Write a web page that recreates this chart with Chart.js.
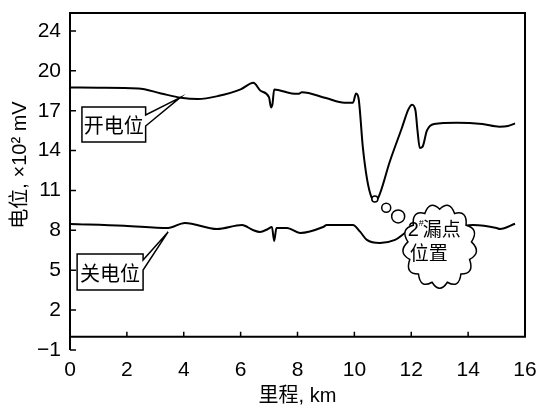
<!DOCTYPE html>
<html>
<head>
<meta charset="utf-8">
<script src="https://cdn.jsdelivr.net/npm/chart.js"></script>
<style>
html,body{margin:0;padding:0;background:#fff;}
canvas{display:block;}
</style>
</head>
<body>
<canvas id="c" width="536" height="408"></canvas>
<script>
// ---- data ----
const openX = [0, 1, 2.4, 3.2, 3.9, 4.5, 5.2, 6.0, 6.45, 6.7, 7.0, 7.07, 7.12, 7.18, 7.8, 8.05, 8.15, 9.0, 9.65, 9.95, 10.06, 10.15, 10.3, 10.45, 10.6, 10.72, 10.85, 11.25, 11.67, 11.9, 12.03, 12.15, 12.22, 12.3, 12.4, 12.55, 12.8, 13.6, 14.5, 15.1, 15.4, 15.65];
const openY = [18.75, 18.72, 18.68, 18.3, 17.98, 17.88, 18.1, 18.6, 19.1, 18.5, 18.0, 17.25, 17.5, 18.6, 18.3, 18.28, 18.38, 17.95, 17.6, 17.6, 18.3, 17.9, 14.2, 11.8, 10.5, 10.2, 10.5, 13.2, 15.7, 17.1, 17.45, 17.0, 15.5, 14.2, 14.3, 15.5, 16.0, 16.1, 16.0, 15.8, 15.85, 16.05];
const offX = [0, 1.9, 3.45, 4.04, 5.17, 6.05, 6.43, 6.68, 6.96, 7.1, 7.18, 7.26, 7.63, 8.09, 8.9, 9.03, 9.95, 10.2, 10.44, 10.9, 11.43, 11.85, 12.4, 13.0, 13.6, 14.17, 15.0, 15.12, 15.65];
const offY = [8.48, 8.35, 8.18, 8.56, 8.1, 8.4, 8.03, 7.88, 8.1, 8.25, 7.2, 8.18, 8.18, 7.8, 8.25, 8.4, 8.4, 7.9, 7.28, 7.05, 7.28, 7.88, 8.1, 8.2, 8.25, 8.4, 8.18, 8.1, 8.5];
const xTickValues = [0, 2, 4, 6, 8, 10, 12, 14, 16];
const yTickValues = [-1, 2, 5, 8, 11, 14, 17, 20, 23];
const yTickLabels = ['\u22121', '2', '5', '8', '11', '14', '17', '20', '24'];
const seriesNames = ['开电位', '关电位'];
const leakLabel = ['2', '#', '漏点', '位置'];
const xTitle = '里程, km';
const yTitle = '电位, ×10\u00B2 mV';

const LATIN = '"Liberation Sans", Arial, "Noto Sans CJK SC", sans-serif';
const CJK = '"Noto Sans CJK SC", "Liberation Sans", sans-serif';

function pts(xs, ys) { return xs.map((x, i) => ({ x: x, y: ys[i] })); }

const decor = {
  id: 'decor',
  afterDatasetsDraw(chart) {
    const ctx = chart.ctx;
    const xs = chart.scales.x, ys = chart.scales.y;
    const ca = chart.chartArea;
    const px = v => xs.getPixelForValue(v);
    const py = v => ys.getPixelForValue(v);
    ctx.save();
    ctx.strokeStyle = '#000';
    ctx.lineWidth = 2;
    ctx.lineCap = 'butt';
    // frame: left axis (to -1), top, right, x axis at y = 0
    const y0 = py(0);
    ctx.beginPath();
    ctx.moveTo(ca.left, ca.bottom);
    ctx.lineTo(ca.left, ca.top);
    ctx.lineTo(ca.right, ca.top);
    ctx.lineTo(ca.right, y0);
    ctx.lineTo(ca.left, y0);
    ctx.stroke();
    ctx.lineWidth = 1.5;
    // y ticks (inward)
    ctx.beginPath();
    yTickValues.forEach(v => { const y = py(v); ctx.moveTo(ca.left, y); ctx.lineTo(ca.left + 6, y); });
    // x ticks (upward)
    xTickValues.forEach(v => { if (v > 0 && v < 16) { const x = px(v); ctx.moveTo(x, y0); ctx.lineTo(x, y0 - 5); } });
    ctx.stroke();

    // callout boxes
    function callout(text, bx1, by1, bx2, by2, wy1, wy2, tx, ty) {
      const L = px(bx1), R = px(bx2), T = py(by1), B = py(by2);
      ctx.beginPath();
      ctx.moveTo(L, T); ctx.lineTo(R, T); ctx.lineTo(R, py(wy1));
      ctx.lineTo(px(tx), py(ty));
      ctx.lineTo(R, py(wy2)); ctx.lineTo(R, B); ctx.lineTo(L, B); ctx.closePath();
      ctx.fillStyle = '#fff'; ctx.fill();
      ctx.lineWidth = 1.5; ctx.strokeStyle = '#000'; ctx.stroke();
      ctx.fillStyle = '#000';
      ctx.font = '20px ' + CJK;
      ctx.textAlign = 'center'; ctx.textBaseline = 'middle';
      ctx.fillText(text, (L + R) / 2, (T + B) / 2 + 1);
    }
    callout(seriesNames[0], 0.42, 17.28, 2.66, 14.65, 16.68, 15.85, 3.87, 17.98);
    callout(seriesNames[1], 0.25, 6.22, 2.57, 3.51, 5.77, 5.02, 3.45, 7.88);

    // thought bubbles + cloud
    ctx.lineWidth = 1.5;
    [[10.72, 10.35, 3], [11.12, 9.7, 4.5], [11.54, 9.05, 6.5]].forEach(b => {
      ctx.beginPath(); ctx.arc(px(b[0]), py(b[1]), b[2], 0, Math.PI * 2);
      ctx.fillStyle = '#fff'; ctx.fill(); ctx.stroke();
    });
    const cx = px(13.0), cy = py(6.8), rx = 32, ry = 37, n = 13, bulge = 11;
    ctx.beginPath();
    for (let i = 0; i <= n; i++) {
      const a = -Math.PI / 2 + 2 * Math.PI * i / n;
      const x = cx + rx * Math.cos(a), y = cy + ry * Math.sin(a);
      if (i === 0) { ctx.moveTo(x, y); continue; }
      const am = a - Math.PI / n;
      const k = 1 + bulge / Math.hypot(rx * Math.cos(am), ry * Math.sin(am));
      ctx.quadraticCurveTo(cx + rx * k * Math.cos(am), cy + ry * k * Math.sin(am), x, y);
    }
    ctx.closePath();
    ctx.fillStyle = '#fff'; ctx.fill(); ctx.stroke();
    ctx.fillStyle = '#000';
    ctx.textBaseline = 'alphabetic'; ctx.textAlign = 'left';
    ctx.font = '20px ' + LATIN;
    ctx.fillText(leakLabel[0], cx - 32, cy - 10);
    ctx.font = '9px ' + LATIN;
    ctx.fillText(leakLabel[1], cx - 21, cy - 20);
    ctx.font = '19px ' + CJK;
    ctx.fillText(leakLabel[2], cx - 17, cy - 10);
    ctx.fillText(leakLabel[3], cx - 30, cy + 14);

    // axis titles
    ctx.font = '20px ' + LATIN;
    ctx.textAlign = 'center'; ctx.textBaseline = 'middle';
    ctx.fillText(xTitle, (ca.left + ca.right) / 2 + 0, 396);
    ctx.translate(20, 165);
    ctx.rotate(-Math.PI / 2);
    ctx.fillText(yTitle, 0, 0);
    ctx.restore();
  }
};

new Chart(document.getElementById('c'), {
  type: 'line',
  data: {
    datasets: [
      { label: seriesNames[0], data: pts(openX, openY), borderColor: '#000', borderWidth: 2, pointRadius: 0, fill: false, cubicInterpolationMode: 'monotone' },
      { label: seriesNames[1], data: pts(offX, offY), borderColor: '#000', borderWidth: 2, pointRadius: 0, fill: false, cubicInterpolationMode: 'monotone' }
    ]
  },
  options: {
    responsive: false,
    animation: false,
    devicePixelRatio: 1,
    layout: { padding: { top: 13, right: 11, left: 0, bottom: 0 } },
    plugins: { legend: { display: false }, tooltip: { enabled: false } },
    scales: {
      x: {
        type: 'linear', min: 0, max: 16,
        afterBuildTicks: s => { s.ticks = xTickValues.map(v => ({ value: v })); },
        ticks: { color: '#000', font: { family: LATIN, size: 21 }, padding: 8, maxRotation: 0, autoSkip: false },
        grid: { display: false, drawTicks: false },
        border: { display: false },
        afterFit: s => { s.height = 58; s.paddingLeft = 0; s.paddingRight = 0; s.paddingTop = 0; s.paddingBottom = 0; }
      },
      y: {
        type: 'linear', min: -1, max: 24.35,
        afterBuildTicks: s => { s.ticks = yTickValues.map(v => ({ value: v })); },
        ticks: { color: '#000', font: { family: LATIN, size: 21 }, padding: 9, autoSkip: false,
          callback: (v, i) => yTickLabels[i] },
        grid: { display: false, drawTicks: false },
        border: { display: false },
        afterFit: s => { s.width = 70; s.paddingLeft = 0; s.paddingRight = 0; s.paddingTop = 0; s.paddingBottom = 0; }
      }
    }
  },
  plugins: [decor]
});
</script>
</body>
</html>
